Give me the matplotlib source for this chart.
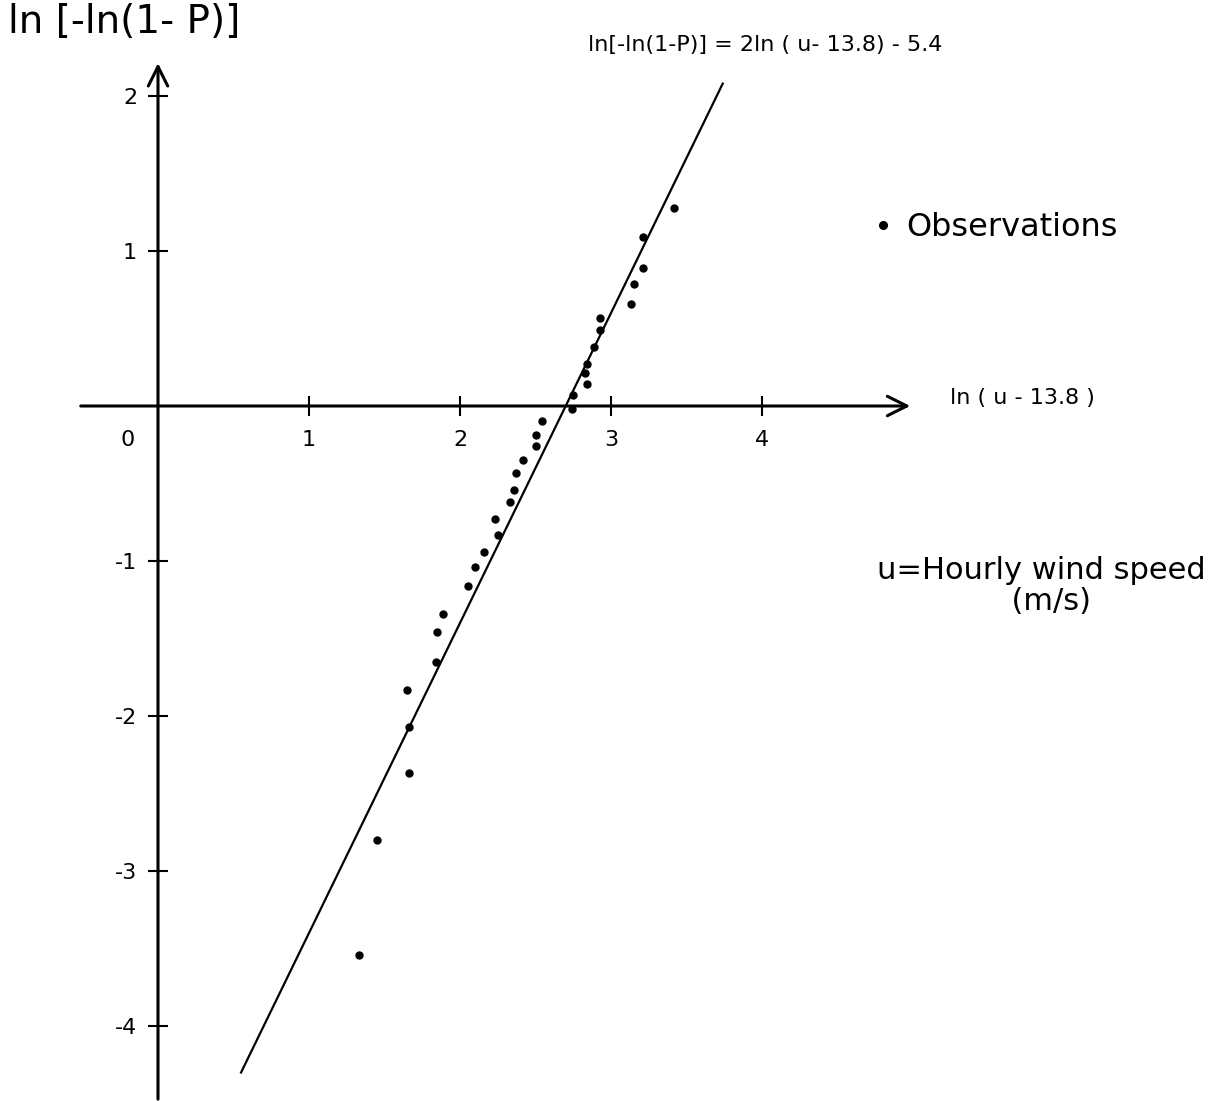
import numpy as np
import matplotlib
matplotlib.use('Agg')
from matplotlib import pyplot as plt

plt.rcParams['axes.unicode_minus'] = False

# observations: x = ln(u - 13.8), y = ln[-ln(1-P)]
obs_x = [3.42, 3.21, 3.21, 3.15, 3.13, 2.93, 2.93, 2.89, 2.84, 2.83, 2.84,
         2.75, 2.74, 2.54, 2.50, 2.50, 2.42, 2.37, 2.36, 2.33, 2.23, 2.25,
         2.16, 2.10, 2.05, 1.89, 1.85, 1.84, 1.65, 1.66, 1.66, 1.45, 1.33]
obs_y = [1.28, 1.09, 0.89, 0.79, 0.66, 0.57, 0.49, 0.38, 0.27, 0.21, 0.14,
         0.07, -0.02, -0.10, -0.19, -0.26, -0.35, -0.43, -0.54, -0.62, -0.73, -0.83,
         -0.94, -1.04, -1.16, -1.34, -1.46, -1.65, -1.83, -2.07, -2.37, -2.80, -3.54]

# fitted line  ln[-ln(1-P)] = 2 ln(u - 13.8) - 5.4
slope = 2.0
intercept = -5.4
fit_x = [0.55, 3.74]

x_ticks = [1, 2, 3, 4]
y_ticks = [-4, -3, -2, -1, 1, 2]

fig = plt.figure(figsize=(12.22, 11.01), dpi=100)
ax = fig.add_axes([0, 0, 1, 1])
ax.set_xlim(-158 / 151, (1222 - 158) / 151)
ax.set_ylim(406 / 155 - 1101 / 155, 406 / 155)

for s in ax.spines.values():
    s.set_visible(False)
ax.spines['left'].set_position(('data', 0))
ax.spines['bottom'].set_position(('data', 0))

# axes with arrows
ax.annotate('', xy=(5.0, 0), xytext=(-0.53, 0),
            arrowprops=dict(arrowstyle='->', lw=2.2, color='black', mutation_scale=35))
ax.annotate('', xy=(0, 2.23), xytext=(0, -4.49),
            arrowprops=dict(arrowstyle='->', lw=2.2, color='black', mutation_scale=35))

ax.set_xticks(x_ticks)
ax.set_yticks(y_ticks)
ax.tick_params(axis='both', direction='inout', length=14, width=1.5, labelsize=16)
ax.tick_params(axis='x', pad=10)
ax.tick_params(axis='y', pad=8)
ax.text(-0.2, -0.22, '0', fontsize=16, ha='center', va='center')

fx = np.array(fit_x)
ax.plot(fx, slope * fx + intercept, color='black', lw=1.6)
ax.plot(obs_x, obs_y, 'o', color='black', markersize=5, label='Observations')

ax.legend(loc='center left', bbox_to_anchor=(846 / 1222, 1 - 228 / 1101), frameon=False,
          fontsize=23, handlelength=0.5, handletextpad=0.5, markerscale=1.1)

ax.text(8 / 1222, 1 - 22 / 1101, 'ln [-ln(1- P)]', transform=ax.transAxes,
        fontsize=28, ha='left', va='center')
ax.text(588 / 1222, 1 - 45 / 1101, 'ln[-ln(1-P)] = 2ln ( u- 13.8) - 5.4',
        transform=ax.transAxes, fontsize=16, ha='left', va='center')
ax.text(950 / 1222, 1 - 398 / 1101, 'ln ( u - 13.8 )', transform=ax.transAxes,
        fontsize=16, ha='left', va='center')
ax.text(1041 / 1222, 1 - 586 / 1101, 'u=Hourly wind speed\n  (m/s)',
        transform=ax.transAxes, fontsize=22, ha='center', va='center',
        multialignment='center', linespacing=1.05)

fig.savefig('out.png', dpi=100)
